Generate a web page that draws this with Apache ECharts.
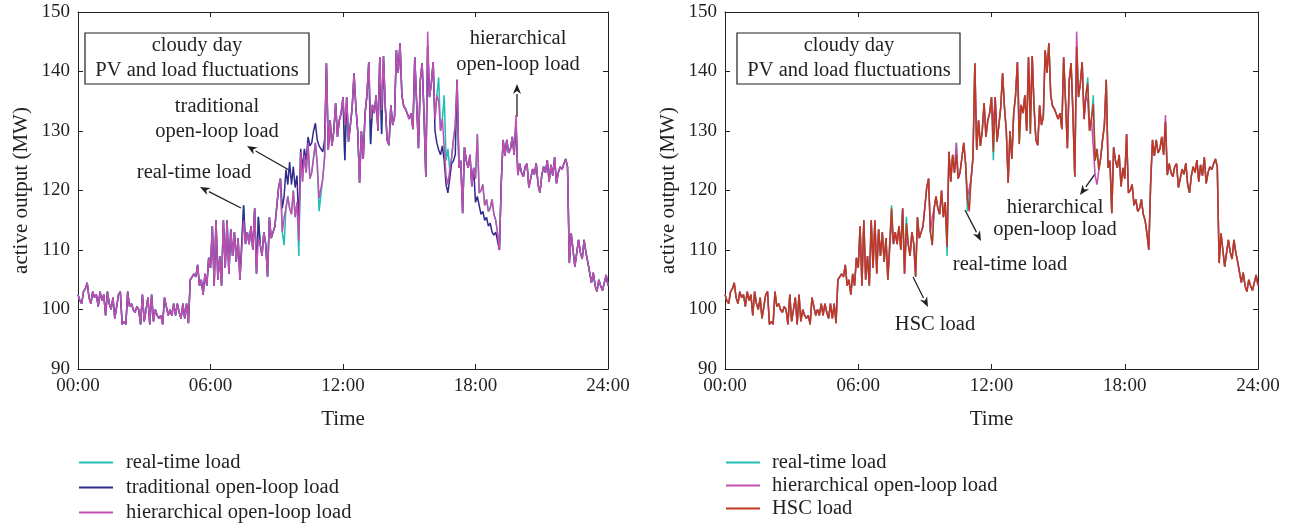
<!DOCTYPE html>
<html>
<head>
<meta charset="utf-8">
<script src="https://cdn.jsdelivr.net/npm/echarts@6/dist/echarts.min.js"></script>
<style>
  html, body { margin: 0; background: #fff; }
  #chart { width: 1298px; height: 527px; }
</style>
</head>
<body>
<div id="chart"></div>
<script>
// real-time load, one value every 5 min (one row per hour), last value = 24:00
const realTime = [
  [102.5, 101.5, 101, 103, 103.5, 104.5, 102, 101, 103, 102, 102.5, 100.5],
  [103, 101.5, 102.5, 99, 103, 101, 100, 102, 98.5, 100.5, 102.5, 103],
  [97.5, 98, 97.5, 103, 100.5, 101, 100, 99.5, 100.5, 100, 97.5, 102.5],
  [98, 100, 102, 97.5, 102.5, 98, 100, 99, 98.5, 99, 97.5, 102],
  [102, 99, 100, 99, 101, 99, 101, 99.5, 98.5, 101, 98.5, 101],
  [97.7, 105, 105.5, 106, 105.5, 107.5, 104, 105, 102.5, 106, 104, 108.7],
  [107, 114, 104, 115, 105, 109, 104, 115, 107, 115, 106, 113.5],
  [109, 113, 108, 112, 105, 105, 117.5, 111, 113, 111, 114, 110],
  [117, 106, 115.6, 111, 109, 113, 111, 105.5, 115.5, 112, 113, 114],
  [114, 120.5, 122, 113, 110.8, 117, 119, 117, 116, 120, 115.5, 118],
  [109, 126.5, 121.5, 126, 123, 128, 122, 123, 125.5, 128, 124.5, 116.5],
  [116.5, 122, 125.6, 141.4, 126.8, 131.8, 127.5, 130, 134.7, 129, 131.8, 133],
  [135.7, 125.1, 135.7, 128.2, 131, 134, 139.7, 134, 130, 121.3, 130, 125.3],
  [133, 136, 141.6, 127.8, 134.4, 133, 136, 130, 142.4, 129.5, 142.6, 134],
  [128.5, 127.6, 134.3, 131, 132.4, 143.6, 139.8, 144.8, 136, 134.2, 133.7, 134],
  [132, 133, 130.3, 142.4, 135, 127.1, 138.5, 141.4, 133, 122.3, 144.2, 135.7],
  [138, 141.6, 132, 136, 139, 130, 132, 136, 125, 127, 123.5, 125.5],
  [128.5, 131, 138.6, 123.8, 125, 116.2, 127.3, 125, 123.8, 126, 120.7, 123.8],
  [122, 129.5, 119.6, 120, 121, 117.5, 118.5, 116.5, 117, 118.5, 116, 115],
  [112.8, 110, 121.3, 128.5, 125.8, 128.5, 126.3, 127, 129, 126, 131.5, 122.6],
  [124.5, 123, 122.3, 124, 124.5, 120.5, 122, 123.6, 122.7, 124.6, 121, 119.6],
  [122.5, 124, 123, 125.1, 121.5, 124.3, 122.5, 125.6, 121.2, 123, 124, 123.5],
  [124.5, 125.3, 124, 107.8, 112.8, 110, 107.2, 109.5, 111.7, 109.6, 108.5, 111.7],
  [109.6, 108, 107.8, 104.5, 106.2, 104, 103, 105, 104, 103.2, 104.5, 105.8],
  [104]
].flat();

// points where the other curves leave the real-time curve
const hierEdits = [
  ["07:30", 115], ["08:10", 112], ["09:20", 115.5], ["10:00", 111.5], ["10:55", 118.7],
  ["11:00", 119], ["12:05", 131], ["13:15", 132], ["13:45", 133.5], ["15:50", 146.7],
  ["16:20", 135], ["16:35", 132], ["16:40", 122.5], ["16:45", 121], ["19:50", 132.7]
];
const tradEdits = [
  ["09:15", 117], ["09:20", 119], ["09:25", 123.5], ["09:30", 121], ["09:35", 124.8],
  ["09:40", 121], ["09:45", 124], ["09:50", 120.5], ["09:55", 122.5],
  ["10:00", 114], ["10:05", 127], ["10:10", 123.5], ["10:15", 127], ["10:20", 125],
  ["10:25", 129], ["10:30", 127.5], ["10:35", 128], ["10:40", 130], ["10:45", 131.3],
  ["10:50", 128.5], ["10:55", 127.5], ["11:00", 127], ["11:05", 126.5], ["11:10", 128.5],
  ["16:10", 130], ["16:15", 128], ["16:20", 126.8], ["16:25", 126], ["16:30", 127.5],
  ["16:35", 125], ["16:40", 121], ["16:45", 119.6], ["16:50", 122], ["16:55", 124.5],
  ["17:00", 125], ["17:05", 126],
  ["18:00", 118], ["18:05", 119], ["18:10", 117.5], ["18:15", 116], ["18:20", 116.5],
  ["18:25", 115], ["18:30", 115.5], ["18:35", 114], ["18:40", 114.5], ["18:45", 113],
  ["18:50", 112.5], ["18:55", 113], ["19:00", 111.5]
];
const hscEdits = [
  ["07:30", 117], ["08:10", 114.5], ["10:00", 110.5], ["10:25", 126], ["10:55", 118.5],
  ["12:05", 126.5], ["16:20", 138], ["16:35", 134.5]
];

const FONT = "'Liberation Serif', 'Times New Roman', serif";
const INK = "#231f20";
const C_RT = "#20bdb5", C_TRAD = "#2f2a8c", C_HIER = "#c24fb0", C_HSC = "#c0381e";

function withEdits(edits) {
  const v = realTime.slice();
  edits.forEach(([t, val]) => {
    const [h, m] = t.split(":").map(Number);
    v[(h * 60 + m) / 5] = val;
  });
  return v;
}
const toPairs = (arr) => arr.map((v, i) => [i * 5, v]);

const traditional = withEdits(tradEdits);
const hierarchical = withEdits(hierEdits);
const hsc = withEdits(hscEdits);

const fmtTime = (v) => String(Math.round(v / 60)).padStart(2, "0") + ":00";

function axesFor(grid) {
  const line = { show: true, onZero: false, lineStyle: { color: INK, width: 1 } };
  const tick = { show: true, inside: true, length: 5, lineStyle: { color: INK } };
  const xb = {
    type: "value", gridIndex: grid, min: 0, max: 1440, interval: 360,
    axisLine: line, axisTick: tick, splitLine: { show: false },
    axisLabel: { formatter: fmtTime, fontFamily: FONT, fontSize: 19, color: INK, margin: 8 },
    name: "Time", nameLocation: "middle", nameGap: 40,
    nameTextStyle: { fontFamily: FONT, fontSize: 21, color: INK }
  };
  const xt = {
    type: "value", gridIndex: grid, min: 0, max: 1440, interval: 360, position: "top",
    axisLine: line, axisTick: tick, splitLine: { show: false }, axisLabel: { show: false }
  };
  const yl = {
    type: "value", gridIndex: grid, min: 90, max: 150, interval: 10,
    axisLine: line, axisTick: tick, splitLine: { show: false },
    axisLabel: { fontFamily: FONT, fontSize: 19, color: INK, margin: 8 },
    name: "active output (MW)", nameLocation: "middle", nameGap: 46,
    nameTextStyle: { fontFamily: FONT, fontSize: 21, color: INK }
  };
  const yr = {
    type: "value", gridIndex: grid, min: 90, max: 150, interval: 10, position: "right",
    axisLine: line, axisTick: tick, splitLine: { show: false }, axisLabel: { show: false }
  };
  return { x: [xb, xt], y: [yl, yr] };
}
const leftAxes = axesFor(0), rightAxes = axesFor(1);

function lineSeries(name, color, data, axis) {
  return {
    name, type: "line", data: toPairs(data), xAxisIndex: axis, yAxisIndex: axis,
    color, symbol: "none", showSymbol: false,
    lineStyle: { color, width: 1.5 }, itemStyle: { color }
  };
}

function txt(x, y, s) {
  return {
    type: "text", x, y, silent: true, z: 11,
    style: { text: s, font: "20.5px " + FONT, fill: INK, textAlign: "center", textVerticalAlign: "middle" }
  };
}
function arrow(x1, y1, x2, y2) {
  const a = Math.atan2(y2 - y1, x2 - x1), L = 10, W = 4;
  const bx = x2 - L * Math.cos(a), by = y2 - L * Math.sin(a);
  const px = -Math.sin(a) * W, py = Math.cos(a) * W;
  return [
    { type: "line", silent: true, shape: { x1, y1, x2: bx, y2: by }, style: { stroke: INK, lineWidth: 1.3 } },
    { type: "polygon", silent: true, shape: { points: [[x2, y2], [bx + px, by + py], [bx + 3 * Math.cos(a), by + 3 * Math.sin(a)], [bx - px, by - py]] }, style: { fill: INK } }
  ];
}
function box(x, y, w, h) {
  return { type: "rect", silent: true, shape: { x, y, width: w, height: h }, style: { fill: "#fff", stroke: INK, lineWidth: 1.2 }, z: 10 };
}

const legendText = { fontFamily: FONT, fontSize: 20.5, color: INK };

const option = {
  animation: false,
  backgroundColor: "#fff",
  grid: [
    { left: 78, top: 12, width: 530, height: 357 },
    { left: 725, top: 12, width: 533, height: 357 }
  ],
  xAxis: [...leftAxes.x, ...rightAxes.x],
  yAxis: [...leftAxes.y, ...rightAxes.y],
  legend: [
    { orient: "vertical", icon: "rect", itemWidth: 34, itemHeight: 2, selectedMode: false,
      left: 79, top: 452, height: 75, padding: 0, itemGap: 4,
      textStyle: Object.assign({ padding: [0, 0, 0, 8] }, legendText),
      data: ["real-time load", "traditional open-loop load", "hierarchical open-loop load"] },
    { orient: "vertical", icon: "rect", itemWidth: 34, itemHeight: 2, selectedMode: false,
      left: 726, top: 452, height: 75, padding: 0, itemGap: 2,
      textStyle: Object.assign({ padding: [0, 0, 0, 7] }, legendText),
      data: ["real-time load", "hierarchical open-loop load", "HSC load"] }
  ],
  series: [
    lineSeries("real-time load", C_RT, realTime, 0),
    lineSeries("traditional open-loop load", C_TRAD, traditional, 0),
    lineSeries("hierarchical open-loop load", C_HIER, hierarchical, 0),
    lineSeries("real-time load", C_RT, realTime, 2),
    lineSeries("hierarchical open-loop load", C_HIER, hierarchical, 2),
    lineSeries("HSC load", C_HSC, hsc, 2)
  ],
  graphic: [
    box(85, 33, 224, 51),
    txt(197, 46, "cloudy day"),
    txt(197, 71, "PV and load fluctuations"),
    txt(217, 107, "traditional"),
    txt(217, 132, "open-loop load"),
    ...arrow(289, 170, 247, 146),
    txt(194, 173, "real-time load"),
    ...arrow(241, 208, 200, 187),
    txt(518, 39, "hierarchical"),
    txt(518, 65, "open-loop load"),
    ...arrow(517, 117, 517, 84),

    box(737, 33, 223, 51),
    txt(849, 46, "cloudy day"),
    txt(849, 71, "PV and load fluctuations"),
    txt(1055, 208, "hierarchical"),
    txt(1055, 230, "open-loop load"),
    ...arrow(1095, 174, 1080, 195),
    txt(1010, 265, "real-time load"),
    ...arrow(965, 210, 981, 241),
    txt(935, 325, "HSC load"),
    ...arrow(913, 277, 928, 307)
  ]
};

const chart = echarts.init(document.getElementById("chart"), null, { renderer: "canvas" });
chart.setOption(option);
</script>
</body>
</html>
